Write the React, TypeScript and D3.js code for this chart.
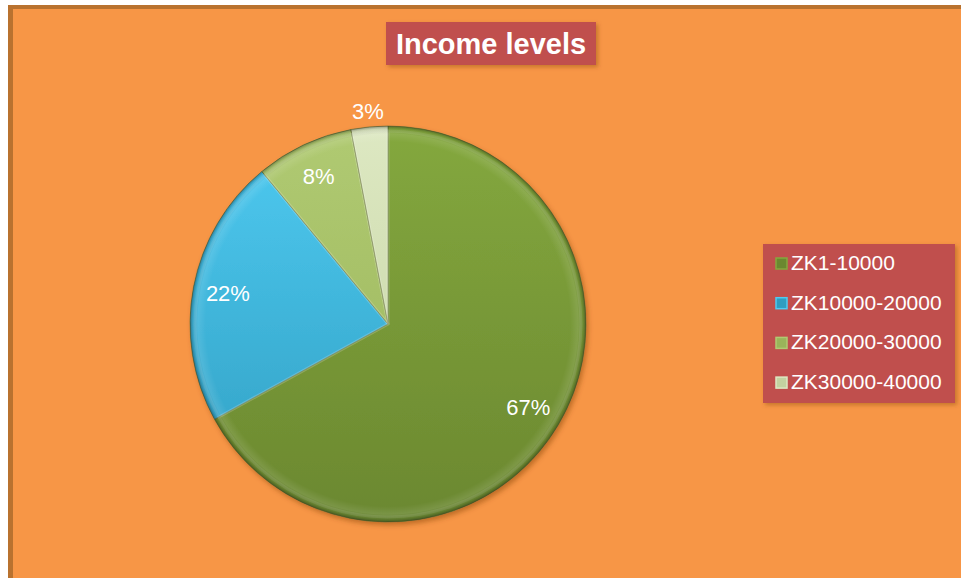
import React from 'react';
import * as d3 from 'd3';

const categories = ['ZK1-10000', 'ZK10000-20000', 'ZK20000-30000', 'ZK30000-40000'];
const shares = [67, 22, 8, 3];
const sliceTop = ['#84a83e', '#4fcbf2', '#b0ca72', '#dde8c2'];
const sliceBottom = ['#6b8830', '#2f9dc0', '#9ab45a', '#c3d2a0'];
const title = 'Income levels';

const W = 961;
const H = 578;
const FONT = '"Liberation Sans", Arial, sans-serif';

const App = () => {
  const cx = 388;
  const cy = 324;
  const r = 198;

  const pie = d3.pie<number>().sort(null).value(d => d);
  const arcs = pie(shares);
  const arc = d3.arc<d3.PieArcDatum<number>>().innerRadius(0).outerRadius(r);
  const innerArc = d3.arc<d3.PieArcDatum<number>>().innerRadius(0).outerRadius(r - 5);
  const labelArc = d3.arc<d3.PieArcDatum<number>>().innerRadius(163).outerRadius(163);
  const outerLabelArc = d3.arc<d3.PieArcDatum<number>>().innerRadius(214).outerRadius(214);

  const total = d3.sum(shares);

  return (
    <svg width={W} height={H} style={{ position: 'absolute', left: 0, top: 0, display: 'block' }}>
      <defs>
        {arcs.map((a, i) => (
          <linearGradient key={i} id={`g${i}`} gradientUnits="userSpaceOnUse" x1={0} y1={-r} x2={0} y2={r}>
            <stop offset="0%" stopColor={sliceTop[i]} />
            <stop offset="100%" stopColor={sliceBottom[i]} />
          </linearGradient>
        ))}
        <radialGradient id="rim" gradientUnits="userSpaceOnUse" cx={0} cy={0} r={r}>
          <stop offset="0.92" stopColor="#ffffff" stopOpacity={0} />
          <stop offset="0.96" stopColor="#ffffff" stopOpacity={0.1} />
          <stop offset="0.985" stopColor="#000000" stopOpacity={0.08} />
          <stop offset="1" stopColor="#000000" stopOpacity={0.35} />
        </radialGradient>
        <filter id="shadow" x="-20%" y="-20%" width="140%" height="140%">
          <feDropShadow dx={2} dy={3} stdDeviation={2.5} floodColor="#7a3d10" floodOpacity={0.45} />
        </filter>
        <filter id="boxShadow" x="-10%" y="-20%" width="130%" height="160%">
          <feDropShadow dx={2} dy={2} stdDeviation={2} floodColor="#7a3d10" floodOpacity={0.4} />
        </filter>
      </defs>
      <rect x={0} y={0} width={W} height={H} fill="#ffffff" />
      <rect x={8} y={5} width={W + 20} height={H + 20} fill="#b9722f" />
      <rect x={13} y={9} width={W + 20} height={H + 20} fill="#f79646" />

      <g transform={`translate(${cx},${cy})`}>
        <g filter="url(#shadow)">
          {arcs.map((a, i) => (
            <path key={i} d={arc(a) || ''} fill={`url(#g${i})`} stroke="#5d6e33" strokeOpacity={0.6} strokeWidth={1} />
          ))}
        </g>
        {arcs.map((a, i) => (
          <path key={'in' + i} d={innerArc(a) || ''} fill="none" stroke="#ffffff" strokeOpacity={0.1} strokeWidth={3} />
        ))}
        <circle r={r} fill="url(#rim)" pointerEvents="none" />
        {arcs.map((a, i) => {
          const small = (a.endAngle - a.startAngle) < 0.3;
          const [lx, ly] = (small ? outerLabelArc : labelArc).centroid(a);
          return (
            <text key={'l' + i} x={lx} y={ly} dy="0.35em" textAnchor="middle" fill="#ffffff"
              fontFamily={FONT} fontSize={22}>
              {`${Math.round((shares[i] / total) * 100)}%`}
            </text>
          );
        })}
      </g>

      <g filter="url(#boxShadow)">
        <rect x={386} y={22} width={210} height={43} fill="#c0504d" />
      </g>
      <text x={491} y={54} textAnchor="middle" fill="#ffffff" fontFamily={FONT} fontWeight="bold" fontSize={29}>
        {title}
      </text>

      <g filter="url(#boxShadow)">
        <rect x={763} y={244} width={192} height={159} fill="#c0504d" />
      </g>
      {categories.map((c, i) => {
        const y = 270 + i * 39.7;
        return (
          <g key={c}>
            <rect x={776} y={y - 12} width={11} height={11} fill={sliceBottom[i]} stroke={sliceTop[i]} strokeWidth={1.5} />
            <text x={791} y={y} fill="#ffffff" fontFamily={FONT} fontSize={21}>{c}</text>
          </g>
        );
      })}
    </svg>
  );
};

export default App;
